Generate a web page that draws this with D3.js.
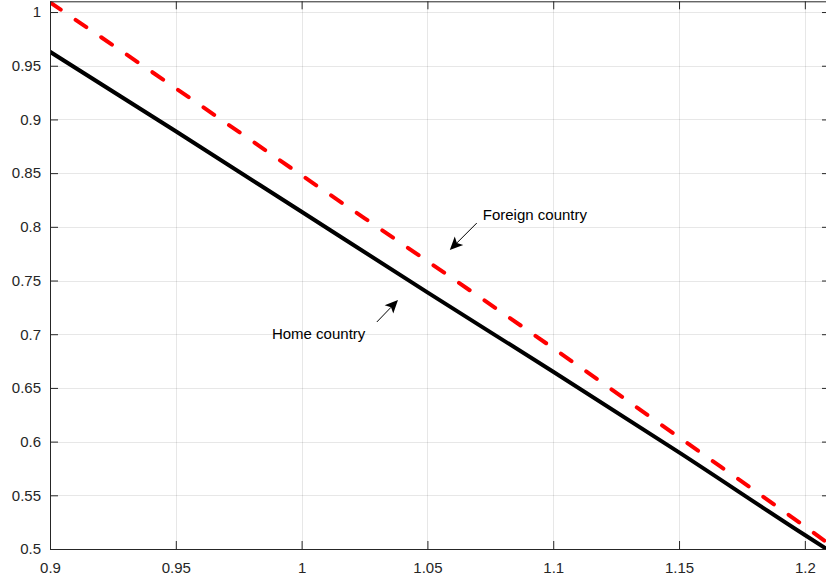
<!DOCTYPE html>
<html>
<head>
<meta charset="utf-8">
<script src="https://cdn.jsdelivr.net/npm/d3@7"></script>
<style>
  html, body { margin: 0; padding: 0; background: #fff; }
  svg { display: block; font-family: "Liberation Sans", Arial, Helvetica, sans-serif; }
</style>
</head>
<body>
<svg id="chart" width="826" height="585"></svg>
<script>
// Relative price (x) against the two countries' curves
const xValues = [0.9, 0.95, 1.0, 1.05, 1.1, 1.15, 1.2, 1.21];
const homeCountry = [0.963, 0.889, 0.814, 0.739, 0.665, 0.590, 0.513, 0.498];
const foreignCountry = [1.009, 0.929, 0.848, 0.768, 0.687, 0.604, 0.521, 0.504];

const xTicks = [0.9, 0.95, 1.0, 1.05, 1.1, 1.15, 1.2];
const yTicks = [0.5, 0.55, 0.6, 0.65, 0.7, 0.75, 0.8, 0.85, 0.9, 0.95, 1.0];
const xDomain = [0.9, 1.21];
const yDomain = [0.5, 1.01];

const labels = [
  { text: "Foreign country", x: 1.0720, y: 0.8063, from: [1.0696, 0.8035], to: [1.0589, 0.7784] },
  { text: "Home country", x: 0.9882, y: 0.6955, from: [1.0299, 0.7114], to: [1.0383, 0.7318] }
];

const svg = d3.select("#chart");
const plotLeft = 50, plotRight = 830, plotTop = 1.3, plotBottom = 549;
const axisColor = "#262626";

const x = d3.scaleLinear().domain(xDomain).range([plotLeft, plotRight]);
const y = d3.scaleLinear().domain(yDomain).range([plotBottom, plotTop]);

svg.append("defs").append("clipPath").attr("id", "plotClip")
  .append("rect").attr("x", plotLeft).attr("y", plotTop)
  .attr("width", plotRight - plotLeft).attr("height", plotBottom - plotTop);

// Grid
const grid = svg.append("g").attr("stroke", axisColor).attr("stroke-opacity", 0.11).attr("stroke-width", 1);
grid.selectAll("line.gx").data(xTicks).join("line")
  .attr("x1", d => Math.round(x(d)) + 0.5).attr("x2", d => Math.round(x(d)) + 0.5)
  .attr("y1", plotTop).attr("y2", plotBottom);
grid.selectAll("line.gy").data(yTicks).join("line")
  .attr("y1", d => Math.round(y(d)) + 0.5).attr("y2", d => Math.round(y(d)) + 0.5)
  .attr("x1", plotLeft).attr("x2", plotRight);

// Curves
const line = d3.line().curve(d3.curveMonotoneX).x((d, i) => x(xValues[i])).y(d => y(d));
const curves = svg.append("g").attr("clip-path", "url(#plotClip)");
curves.append("path").datum(foreignCountry)
  .attr("d", line).attr("fill", "none")
  .attr("stroke", "#ff0000").attr("stroke-width", 4)
  .attr("stroke-linecap", "round")
  .attr("stroke-dasharray", "13,18");
curves.append("path").datum(homeCountry)
  .attr("d", line).attr("fill", "none")
  .attr("stroke", "#000").attr("stroke-width", 4)
  .attr("stroke-linejoin", "round");

// Axes (box with inward ticks on all four sides)
const tickLen = 8;
const axBottom = svg.append("g").attr("transform", `translate(0,${plotBottom})`)
  .call(d3.axisBottom(x).tickValues(xTicks).tickSizeInner(-tickLen).tickSizeOuter(0)
    .tickPadding(13).tickFormat(d3.format("~g")));
const axTop = svg.append("g").attr("transform", `translate(0,${plotTop})`)
  .call(d3.axisTop(x).tickValues(xTicks).tickSizeInner(-tickLen).tickSizeOuter(0).tickFormat(""));
const axLeft = svg.append("g").attr("transform", `translate(${plotLeft},0)`)
  .call(d3.axisLeft(y).tickValues(yTicks).tickSizeInner(-tickLen).tickSizeOuter(0)
    .tickPadding(9).tickFormat(d3.format("~g")));
const axRight = svg.append("g").attr("transform", `translate(${plotRight},0)`)
  .call(d3.axisRight(y).tickValues(yTicks).tickSizeInner(-tickLen).tickSizeOuter(0).tickFormat(""));

[axBottom, axTop, axLeft, axRight].forEach(g => {
  g.select(".domain").attr("stroke", axisColor).attr("stroke-width", 1);
  g.selectAll(".tick line").attr("stroke", axisColor);
  g.selectAll(".tick text").attr("fill", axisColor).style("font-size", "15px")
    .style("font-family", "'Liberation Sans', Arial, sans-serif");
});

// Annotations with arrows
const notes = svg.append("g");
labels.forEach(l => {
  notes.append("text").attr("x", x(l.x)).attr("y", y(l.y))
    .attr("fill", "#000").style("font-size", "15px")
    .text(l.text);
  const x0 = x(l.from[0]), y0 = y(l.from[1]);
  const x1 = x(l.to[0]), y1 = y(l.to[1]);
  const ang = Math.atan2(y1 - y0, x1 - x0);
  const hl = 13, hw = 6, back = 3;
  const ux = Math.cos(ang), uy = Math.sin(ang);
  const px = -uy, py = ux;
  const bx = x1 - ux * hl, by = y1 - uy * hl;
  notes.append("line").attr("x1", x0).attr("y1", y0)
    .attr("x2", x1 - ux * (hl - back)).attr("y2", y1 - uy * (hl - back))
    .attr("stroke", "#000").attr("stroke-width", 1);
  const pts = [
    [x1, y1],
    [bx + px * hw, by + py * hw],
    [x1 - ux * (hl - back), y1 - uy * (hl - back)],
    [bx - px * hw, by - py * hw]
  ];
  notes.append("polygon").attr("points", pts.map(p => p.join(",")).join(" ")).attr("fill", "#000");
});
</script>
</body>
</html>
